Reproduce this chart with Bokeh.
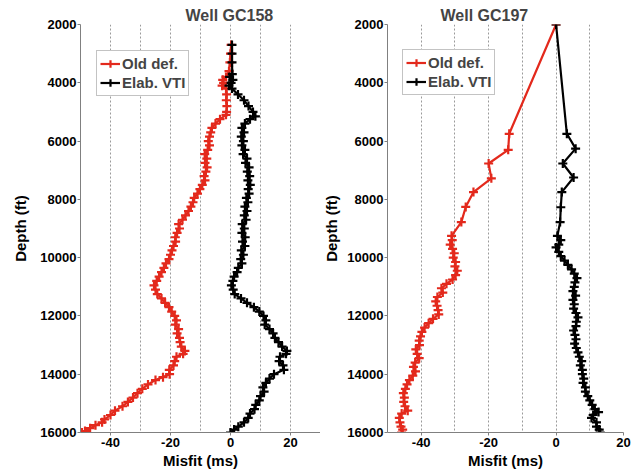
from bokeh.plotting import figure
from bokeh.layouts import row
from bokeh.models import Range1d, FixedTicker, Legend
from bokeh.embed import file_html
from bokeh.resources import INLINE

FONT = "Liberation Sans"
RED = "#e3291c"

# ---- Well GC158 ----
gc158_old_depth = [2700, 3000, 3300, 3600, 3800, 3900, 4000, 4100, 4200, 4400, 4600, 4800, 5000, 5100,
                   5250, 5400, 5550, 5700, 5850, 6000, 6150, 6300, 6450, 6600, 6750, 6900, 7050, 7200,
                   7350, 7500, 7650, 7800, 7950, 8100, 8250, 8400, 8550, 8700, 8850, 9000, 9150, 9300,
                   9450, 9600, 9750, 9900, 10050, 10200, 10350, 10500, 10650, 10800, 10950, 11100,
                   11250, 11400, 11550, 11700, 11850, 12000, 12150, 12300, 12450, 12600, 12750, 12900,
                   13050, 13200, 13300, 13400, 13550, 13700, 13850, 14000, 14100, 14200, 14350, 14500,
                   14650, 14800, 14950, 15100, 15250, 15400, 15550, 15650, 15750, 15850, 15950, 16000]
gc158_old_misfit = [0.2, 0.0, -0.2, -0.5, -1.5, -2.6, -2.3, -2.8, -1.5, -1.3, -1.4, -1.2, -1.3, -1.5,
                    -3.5, -5.0, -6.2, -6.6, -7.0, -7.4, -7.0, -7.6, -8.6, -7.9, -8.5, -7.8, -8.2, -8.8,
                    -8.5, -9.4, -10.2, -11.0, -12.1, -12.5, -13.2, -14.0, -15.0, -16.0, -17.3, -17.0,
                    -17.8, -18.4, -18.3, -19.0, -19.5, -20.0, -20.5, -21.5, -22.2, -23.0, -23.8, -24.6,
                    -25.5, -25.0, -24.4, -23.0, -21.8, -20.5, -19.6, -18.6, -18.0, -18.4, -17.3, -17.8,
                    -17.0, -16.8, -16.4, -15.2, -15.8, -18.0, -18.6, -19.0, -20.4, -20.3, -22.5, -25.0,
                    -27.5, -29.4, -31.0, -32.5, -34.2, -36.0, -38.5, -40.0, -42.0, -42.8, -45.0, -46.8,
                    -48.5, -49.5]
gc158_vti_depth = [2700, 3000, 3300, 3700, 3800, 3900, 4000, 4100, 4200, 4400, 4600, 4800, 5000, 5150,
                   5250, 5400, 5550, 5700, 5850, 6000, 6150, 6300, 6450, 6600, 6750, 6900, 7050, 7200,
                   7350, 7500, 7650, 7800, 7950, 8100, 8250, 8400, 8550, 8700, 8850, 9000, 9150, 9300,
                   9450, 9600, 9750, 9900, 10050, 10200, 10350, 10500, 10650, 10800, 10950, 11100,
                   11250, 11400, 11550, 11700, 11850, 12000, 12150, 12300, 12450, 12600, 12750, 12900,
                   13050, 13200, 13300, 13400, 13550, 13700, 13850, 14000, 14150, 14300, 14450, 14600,
                   14750, 14900, 15050, 15200, 15350, 15500, 15650, 15800, 15900, 16000]
gc158_vti_misfit = [0.5, 0.5, 0.5, 0.6, -0.3, 0.8, 0.2, -0.5, 0.5, 2.5, 4.5, 6.0, 7.5, 8.3,
                    6.5, 4.8, 3.8, 4.5, 3.6, 4.3, 3.8, 4.8, 4.2, 5.5, 5.0, 6.2, 5.6, 6.4,
                    5.8, 6.6, 5.9, 6.2, 5.3, 5.8, 4.8, 5.5, 4.6, 5.2, 3.9, 4.6, 3.8, 4.9,
                    4.0, 4.8, 3.6, 4.3, 3.4, 3.8, 2.6, 2.2, 1.2, 0.8, 0.3, 0.9,
                    1.4, 3.5, 5.5, 7.8, 9.6, 11.0, 11.8, 11.4, 13.0, 14.2, 14.8, 16.0,
                    17.2, 18.8, 18.5, 16.5, 16.2, 17.5, 17.8, 14.5, 13.0, 11.8, 10.8, 11.2,
                    10.0, 9.6, 8.4, 8.0, 6.5, 5.9, 4.5, 2.6, 1.2, 0.0]

# ---- Well GC197 ----
gc197_old_depth = [2000, 5750, 6300, 6770, 7280, 7750, 8260, 8780, 9250, 9400, 9550, 9700, 9850, 10000,
                   10150, 10300, 10450, 10600, 10750, 10900, 11050, 11200, 11350, 11500, 11650, 11800,
                   11950, 12100, 12250, 12400, 12550, 12700, 12850, 13000, 13150, 13300, 13450, 13600,
                   13750, 13900, 14050, 14200, 14350, 14500, 14650, 14800, 14950, 15100, 15250, 15350,
                   15500, 15650, 15800, 15900, 16000]
gc197_old_misfit = [0.0, -13.9, -14.2, -20.0, -19.2, -24.5, -26.8, -28.1, -31.0, -30.8, -31.4, -30.7,
                    -30.2, -30.5, -29.8, -30.0, -29.3, -29.8, -30.7, -32.5, -34.0, -33.6, -35.2, -35.7,
                    -35.3, -35.0, -34.8, -36.5, -37.8, -39.0, -39.8, -40.2, -40.6, -40.5, -41.6, -41.2,
                    -40.6, -41.8, -42.3, -41.7, -42.5, -43.5, -44.2, -44.7, -45.3, -45.0, -45.2, -44.8,
                    -44.0, -45.8, -46.5, -46.3, -46.0, -45.5, -45.8]
gc197_vti_depth = [2000, 5750, 6260, 6770, 7250, 7750, 8270, 8780, 9250, 9400, 9550, 9650, 9800, 9950,
                   10100, 10250, 10400, 10550, 10700, 10850, 11000, 11150, 11300, 11450, 11600, 11750,
                   11900, 12050, 12200, 12350, 12500, 12650, 12800, 12950, 13100, 13250, 13400, 13550,
                   13700, 13850, 14000, 14150, 14300, 14450, 14600, 14750, 14900, 15050, 15200, 15300,
                   15400, 15500, 15650, 15800, 15900, 16000]
gc197_vti_misfit = [0.0, 3.2, 5.8, 2.0, 5.2, 1.7, 1.4, 1.2, 0.4, 1.4, 0.8, 0.0, 0.8, 1.4,
                    2.5, 3.5, 4.6, 5.4, 6.2, 5.6, 5.4, 5.0, 5.8, 5.0, 5.4, 5.2,
                    5.9, 6.5, 6.0, 5.9, 5.2, 5.6, 5.9, 5.5, 6.0, 6.5, 6.9, 7.6,
                    7.2, 7.8, 7.8, 8.2, 8.0, 8.7, 8.7, 9.4, 10.0, 10.7, 11.5, 12.6,
                    11.0, 10.5, 12.0, 12.0, 12.8, 13.1]

depth_ticks = [2000, 4000, 6000, 8000, 10000, 12000, 14000, 16000]
misfit_ticks = [-40, -20, 0, 20]
legend_labels = ["Old def.", "Elab. VTI"]


def make_panel(title, x_lo, x_hi, grid_ticks, old_d, old_v, vti_d, vti_v,
               width, border_left, border_right, title_offset, ylabel_standoff, legend_xy):
    p = figure(width=width, height=471, x_range=Range1d(x_lo, x_hi),
               y_range=Range1d(16000, 2000), output_backend="svg", toolbar_location=None,
               min_border_left=border_left, min_border_right=border_right,
               min_border_top=24, min_border_bottom=37)
    p.outline_line_color = None
    p.background_fill_color = "white"
    p.border_fill_color = "white"

    p.title.text = title
    p.title.align = "left"
    p.title.offset = title_offset
    p.title.text_font = FONT
    p.title.text_font_size = "16px"
    p.title.text_font_style = "bold"
    p.title.standoff = 1

    r1 = p.line(old_v, old_d, line_color=RED, line_width=2.2)
    r2 = p.scatter(old_v, old_d, marker="cross", size=9, line_color=RED, line_width=2.2)
    r3 = p.line(vti_v, vti_d, line_color="black", line_width=2.2)
    r4 = p.scatter(vti_v, vti_d, marker="cross", size=9, line_color="black", line_width=2.2)

    p.xaxis.ticker = FixedTicker(ticks=misfit_ticks)
    p.xaxis.major_label_overrides = {t: str(t) for t in misfit_ticks}
    p.yaxis.ticker = FixedTicker(ticks=depth_ticks)
    p.xgrid.ticker = FixedTicker(ticks=grid_ticks)
    p.xgrid.grid_line_color = "#9a9a9a"
    p.xgrid.grid_line_dash = "2 2"
    p.ygrid.grid_line_color = None

    for ax in (p.xaxis[0], p.yaxis[0]):
        ax.axis_line_color = "#808080"
        ax.major_tick_line_color = "#808080"
        ax.minor_tick_line_color = None
        ax.major_tick_in = 0
        ax.major_tick_out = 3
        ax.major_label_text_font = FONT
        ax.major_label_text_font_style = "bold"
        ax.major_label_text_font_size = "13px"
        ax.major_label_text_color = "black"
        ax.axis_label_text_font = FONT
        ax.axis_label_text_font_style = "bold"
        ax.axis_label_text_font_size = "15px"
        ax.axis_label_text_color = "black"
    p.xaxis.axis_label = "Misfit (ms)"
    p.yaxis.axis_label = "Depth (ft)"
    p.xaxis.major_label_standoff = 2
    p.xaxis.axis_label_standoff = 2
    p.yaxis.major_label_standoff = 1
    p.yaxis.axis_label_standoff = ylabel_standoff

    legend = Legend(items=[(legend_labels[0], [r1, r2]), (legend_labels[1], [r3, r4])],
                    location=legend_xy)
    legend.label_text_font = FONT
    legend.label_text_font_style = "bold"
    legend.label_text_font_size = "15px"
    legend.border_line_color = "#888888"
    legend.border_line_width = 1
    legend.background_fill_color = "white"
    legend.background_fill_alpha = 1
    legend.padding = 3
    legend.spacing = 0
    legend.margin = 0
    legend.glyph_width = 20
    legend.glyph_height = 19
    legend.label_height = 19
    legend.label_standoff = 2
    p.add_layout(legend)
    return p


left = make_panel("Well GC158", -50, 30, [-40, -30, -20, -10, 0, 10, 20],
                  gc158_old_depth, gc158_old_misfit, gc158_vti_depth, gc158_vti_misfit,
                  width=320, border_left=80, border_right=0, title_offset=105,
                  ylabel_standoff=8, legend_xy=(16, 336))
right = make_panel("Well GC197", -50, 20, [-40, -30, -20, -10, 0, 10],
                   gc197_old_depth, gc197_old_misfit, gc197_vti_depth, gc197_vti_misfit,
                   width=320, border_left=63, border_right=17, title_offset=53,
                   ylabel_standoff=4, legend_xy=(15, 337))

layout = row(left, right, spacing=0)
open("out.html", "w").write(file_html(layout, INLINE))
